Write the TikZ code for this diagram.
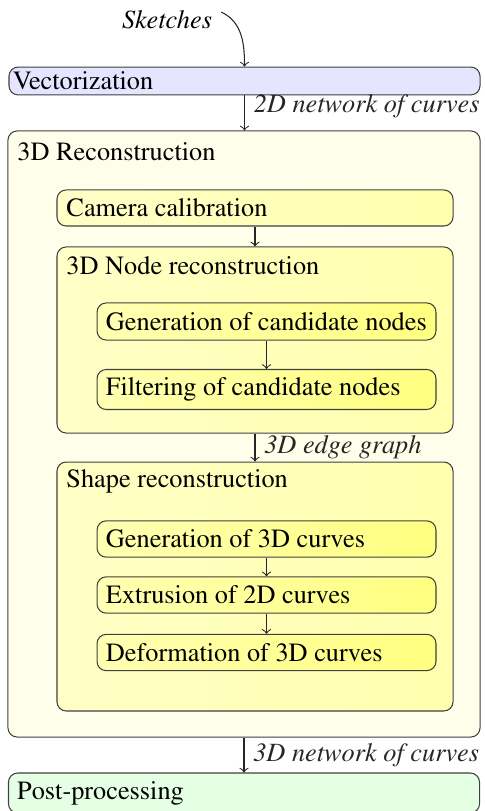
\documentclass[tikz,border=0pt]{standalone}
\usepackage[T1]{fontenc}
\usepackage{times}
\usetikzlibrary{arrows,calc}

\tikzset{
	box/.style 2 args={draw=black!75, rounded corners=3.5pt, minimum width=#1, minimum height=#2, inner sep=0pt},
	boxtext/.style={anchor=west, inner sep=0pt, xshift=3.4pt},
	grouptitle/.style={anchor=west, inner sep=0pt, xshift=3.6pt, yshift=-7.4pt},
	phase/.style={box={179pt}{#1}},
	group/.style={box={150.5pt}{#1}, left color=yellow!22, right color=yellow!32},
	task/.style={box={128.8pt}{#1}, left color=yellow!30, right color=yellow!50},
	flow/.style={->, black!85},
	flowlabel/.style={right, font=\itshape}
}

\begin{document}
\begin{tikzpicture}[x=0.38pt, y=-0.38pt]
		\clip (0,0) rectangle (484,811);
		\node[font=\itshape] (sk) at (167,20) {Sketches};
		\node[phase={10.6pt}, fill=blue!10, label={[boxtext, xshift=-1.9pt]west:Vectorization}] (vect) at (244.5,81) {};
		\node[box={179.4pt}{230.3pt}, fill=yellow!8, label={[grouptitle, yshift=-0.6pt]north west:3D Reconstruction}] (recon) at (244,434) {};
		\begin{scope}
			\node[group={13.7pt}, label={[boxtext, xshift=0.2pt]west:Camera calibration}] (calib) at (255,208) {};
			\node[group={70.7pt}, label={[grouptitle]north west:3D Node reconstruction}] (noderec) at (255,340) {};
			\node[task={14.1pt}, label={[boxtext]west:Generation of candidate nodes}] (gencand) at (266.5,321.5) {};
			\node[task={15.2pt}, label={[boxtext]west:Filtering of candidate nodes}] (filtcand) at (266.5,389.5) {};
		\end{scope}
		\begin{scope}
			\node[group={94.6pt}, label={[grouptitle]north west:Shape reconstruction}] (shaperec) at (255,586.5) {};
			\node[task={13.8pt}, label={[boxtext]west:Generation of 3D curves}] (gencurve) at (266.5,539) {};
			\node[task={13.8pt}, label={[boxtext]west:Extrusion of 2D curves}] (extrude) at (266.5,595) {};
			\node[task={13.8pt}, label={[boxtext]west:Deformation of 3D curves}] (deform) at (266.5,652.5) {};
		\end{scope}
		\node[phase={15.2pt}, fill=green!10, label={[boxtext, xshift=-0.1pt]west:Post-processing}] (post) at (244,793) {};
		\draw[flow] ([yshift=3pt]sk.east) to[out=-25,in=90] (vect.north);
		\draw[flow] (vect.south) -- node[flowlabel, pos=0.3] {2D network of curves} (recon.north -| vect.south);
		\draw[flow] (calib) -- (noderec);
		\draw[flow] (gencand) -- (filtcand);
		\draw[flow] (noderec) -- node[flowlabel] {3D edge graph} (shaperec);
		\draw[flow] (gencurve) -- (extrude);
		\draw[flow] (extrude) -- (deform);
		\draw[flow] (recon.south) -- node[flowlabel] {3D network of curves} (post.north -| recon.south);
	\end{tikzpicture}
\end{document}
